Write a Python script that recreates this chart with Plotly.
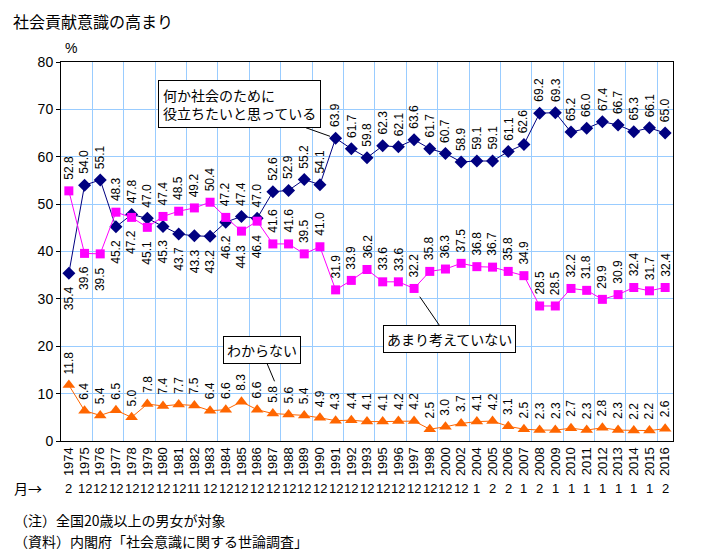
import plotly.graph_objects as go

# ---- data ----
years = ["1974", "1975", "1976", "1977", "1978", "1979", "1980", "1981", "1982", "1983",
         "1984", "1985", "1986", "1987", "1988", "1989", "1990", "1991", "1992", "1993",
         "1995", "1996", "1997", "1998", "2000", "2002", "2004", "2005", "2006", "2007",
         "2008", "2009", "2010", "2011", "2012", "2013", "2014", "2015", "2016"]
months = [2, 12, 12, 12, 12, 12, 12, 12, 11, 12,
          12, 12, 12, 12, 12, 12, 12, 12, 12, 12,
          12, 12, 12, 12, 12, 12, 1, 2, 2, 1,
          2, 1, 1, 1, 1, 1, 1, 1, 2]
contribute = [35.4, 54.0, 55.1, 45.2, 47.8, 47.0, 45.3, 43.7, 43.3, 43.2,
              46.2, 47.4, 47.0, 52.6, 52.9, 55.2, 54.1, 63.9, 61.7, 59.8,
              62.3, 62.1, 63.6, 61.7, 60.7, 58.9, 59.1, 59.1, 61.1, 62.6,
              69.2, 69.3, 65.2, 66.0, 67.4, 66.7, 65.3, 66.1, 65.0]
not_think = [52.8, 39.6, 39.5, 48.3, 47.2, 45.1, 47.4, 48.5, 49.2, 50.4,
             47.2, 44.3, 46.4, 41.6, 41.6, 39.5, 41.0, 31.9, 33.9, 36.2,
             33.6, 33.6, 32.2, 35.8, 36.3, 37.5, 36.8, 36.7, 35.8, 34.9,
             28.5, 28.5, 32.2, 31.8, 29.9, 30.9, 32.4, 31.7, 32.4]
dont_know = [11.8, 6.4, 5.4, 6.5, 5.0, 7.8, 7.4, 7.7, 7.5, 6.4,
             6.6, 8.3, 6.6, 5.8, 5.6, 5.4, 4.9, 4.3, 4.4, 4.1,
             4.1, 4.2, 4.2, 2.5, 3.0, 3.7, 4.1, 4.2, 3.1, 2.5,
             2.3, 2.3, 2.7, 2.3, 2.8, 2.3, 2.2, 2.2, 2.6]
y_ticks = [0, 10, 20, 30, 40, 50, 60, 70, 80]

# years where the pink label sits below its marker (style only)
pink_below_years = ["1975", "1976", "1978", "1979", "1985", "1986"]

FONT = "Liberation Sans, Arial, Noto Sans CJK JP, sans-serif"
JFONT = "Noto Sans CJK JP, Liberation Sans, sans-serif"
BLUE = "#000080"
PINK = "#FF00FF"
ORANGE = "#FF6600"
GRID = "#99CCFF"

xi = list(range(len(years)))

fig = go.Figure()
fig.add_trace(go.Scatter(x=xi, y=contribute, mode="lines+markers",
                         line=dict(color=BLUE, width=1),
                         marker=dict(symbol="diamond", size=10, color=BLUE)))
fig.add_trace(go.Scatter(x=xi, y=not_think, mode="lines+markers",
                         line=dict(color=PINK, width=1),
                         marker=dict(symbol="square", size=9, color=PINK)))
fig.add_trace(go.Scatter(x=xi, y=dont_know, mode="lines+markers",
                         line=dict(color=ORANGE, width=1),
                         marker=dict(symbol="triangle-up", size=11, color=ORANGE)))

ann = []


def label(i, v, below):
    ann.append(dict(x=i, y=v, xref="x", yref="y", text=f"{v:.1f}", textangle=-90,
                    showarrow=False, xanchor="center",
                    yanchor="top" if below else "bottom",
                    yshift=-11 if below else 9,
                    font=dict(family=FONT, size=12, color="black")))


for i in xi:
    label(i, contribute[i], contribute[i] < not_think[i])
    label(i, not_think[i], years[i] in pink_below_years)
    label(i, dont_know[i], False)

# month row
for i in xi:
    ann.append(dict(x=i, y=0, xref="x", yref="paper", yshift=-47, text=str(months[i]),
                    showarrow=False, xanchor="center", yanchor="middle",
                    font=dict(family=FONT, size=13, color="black")))
ann.append(dict(x=0, y=0, xref="paper", yref="paper", xshift=-49, yshift=-47, text="月→",
                showarrow=False, xanchor="left", yanchor="middle",
                font=dict(family=JFONT, size=14, color="black")))

# title, unit, notes
ann.append(dict(x=0, y=1, xref="paper", yref="paper", xshift=-49, yshift=54,
                text="社会貢献意識の高まり", showarrow=False, xanchor="left", yanchor="top",
                borderpad=0, font=dict(family=JFONT, size=16, color="black")))
ann.append(dict(x=0, y=1, xref="paper", yref="paper", xshift=10, yshift=14,
                text="%", showarrow=False, xanchor="center", yanchor="middle",
                font=dict(family=FONT, size=14, color="black")))
ann.append(dict(x=0, y=0, xref="paper", yref="paper", xshift=-49, yshift=-79,
                text="（注）全国20歳以上の男女が対象", showarrow=False, xanchor="left",
                yanchor="middle", font=dict(family=JFONT, size=14, color="black")))
ann.append(dict(x=0, y=0, xref="paper", yref="paper", xshift=-49, yshift=-100,
                text="（資料）内閣府「社会意識に関する世論調査」", showarrow=False, xanchor="left",
                yanchor="middle", font=dict(family=JFONT, size=14, color="black")))

# callouts
callout_font = dict(family=JFONT, size=14, color="black")
ann.append(dict(x=years.index("1991"), y=contribute[years.index("1991")], xref="x", yref="y",
                text="何か社会のために<br>役立ちたいと思っている", align="left",
                showarrow=True, arrowhead=0, arrowwidth=1, arrowcolor="black",
                ax=-96, ay=-34, standoff=6,
                bgcolor="white", bordercolor="black", borderwidth=1, borderpad=4,
                font=callout_font))
ann.append(dict(x=years.index("1997"), y=not_think[years.index("1997")], xref="x", yref="y",
                text="あまり考えていない",
                showarrow=True, arrowhead=0, arrowwidth=1, arrowcolor="black",
                ax=35, ay=51, standoff=10,
                bgcolor="white", bordercolor="black", borderwidth=1, borderpad=3,
                font=callout_font))
ann.append(dict(x=years.index("1988"), y=dont_know[years.index("1988")], xref="x", yref="y",
                text="わからない",
                showarrow=True, arrowhead=0, arrowwidth=1, arrowcolor="black",
                ax=-27, ay=-64, standoff=36,
                bgcolor="white", bordercolor="black", borderwidth=1, borderpad=3,
                font=callout_font))

# page body has an 8px margin, so the figure is shifted by 8px; compensate
fig.update_layout(
    width=694, height=547,
    margin=dict(l=53, r=29, t=54, b=114),
    paper_bgcolor="white", plot_bgcolor="white",
    showlegend=False,
    font=dict(family=FONT, size=13, color="black"),
    annotations=ann,
    xaxis=dict(range=[-0.5, len(years) - 0.5], tickmode="array", tickvals=xi, ticktext=years,
               tickangle=-90, showgrid=False, zeroline=False,
               showline=True, linecolor="black", linewidth=1, mirror=True, ticks="",
               tickfont=dict(family=FONT, size=13, color="black"),
               minor=dict(tickmode="array", tickvals=[i + 1.5 for i in range(0, len(years) - 2, 2)],
                          showgrid=True, gridcolor=GRID, gridwidth=1, ticks="")),
    yaxis=dict(range=[0, 80], tickmode="array", tickvals=y_ticks, showgrid=True,
               gridcolor=GRID, gridwidth=1, zeroline=False,
               showline=True, linecolor="black", linewidth=1, mirror=True,
               ticks="outside", ticklen=4, tickcolor="black",
               tickfont=dict(family=FONT, size=14, color="black")),
)

fig.write_html("out.html")
